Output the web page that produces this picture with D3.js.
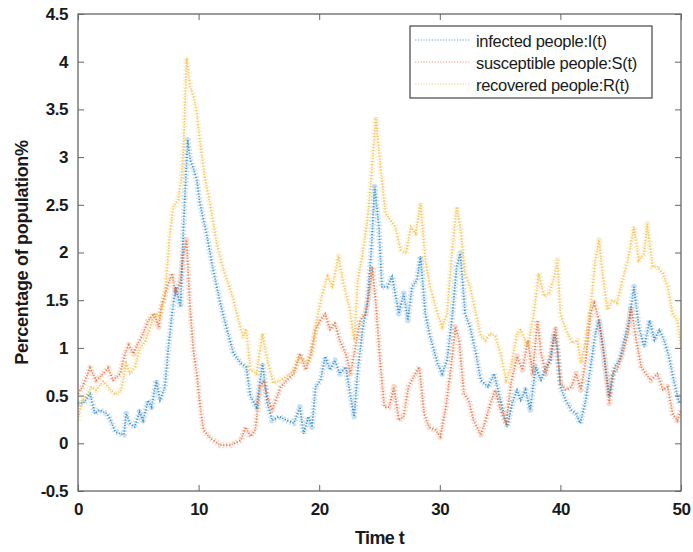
<!DOCTYPE html>
<html>
<head>
<meta charset="utf-8">
<script src="https://cdn.jsdelivr.net/npm/d3@7"></script>
<style>
  body { margin: 0; background: #fff; }
  svg { display: block; font-family: "Liberation Sans", Arial, sans-serif; }
</style>
</head>
<body>
<svg id="chart" width="693" height="552"></svg>
<script>
// ---- data ----
const xTicks = [0, 10, 20, 30, 40, 50];
const yTicks = [-0.5, 0, 0.5, 1, 1.5, 2, 2.5, 3, 3.5, 4, 4.5];
const yTickLabels = ["-0.5", "0", "0.5", "1", "1.5", "2", "2.5", "3", "3.5", "4", "4.5"];
const seriesNames = ["infected people:I(t)", "susceptible people:S(t)", "recovered people:R(t)"];

const infected = [
  [0,0.42],[0.45,0.42],[1,0.52],[1.4,0.31],[1.8,0.35],[2.4,0.31],[2.7,0.24],[3.1,0.12],[3.5,0.10],[3.8,0.09],
  [4.0,0.31],[4.3,0.21],[4.7,0.17],[5.1,0.33],[5.4,0.24],[5.8,0.45],[6.1,0.38],[6.5,0.66],[6.8,0.45],[7.2,0.59],
  [7.5,1.01],[7.8,1.36],[8.1,1.64],[8.5,1.43],[8.75,2.27],[8.9,2.69],[9.1,3.18],[9.3,2.97],[9.6,2.87],[9.85,2.76],
  [10.1,2.52],[10.7,2.17],[11.2,1.82],[11.8,1.47],[12.35,1.19],[12.9,0.94],[13.5,0.84],[13.95,0.80],[14.3,0.49],[14.8,0.38],
  [15.3,0.84],[15.7,0.42],[16.1,0.24],[16.7,0.28],[17.3,0.24],[17.9,0.21],[18.4,0.38],[18.7,0.10],[19.1,0.28],[19.4,0.17],
  [19.7,0.59],[20.1,0.66],[20.5,0.91],[20.9,0.77],[21.3,0.87],[21.7,0.73],[22.2,0.80],[22.6,0.49],[22.9,0.28],[23.2,0.77],
  [23.6,1.19],[24.0,1.47],[24.3,1.99],[24.6,2.69],[24.95,2.27],[25.2,1.64],[25.65,1.64],[26.05,1.75],[26.6,1.36],[27.0,1.57],
  [27.35,1.29],[27.7,1.64],[28.1,1.71],[28.4,1.96],[28.8,1.36],[29.2,1.12],[29.8,0.84],[30.2,0.73],[30.6,0.87],[31.0,1.29],
  [31.4,1.85],[31.7,1.99],[32.1,1.36],[32.5,1.22],[33.0,0.94],[33.4,0.66],[34.0,0.59],[34.5,0.73],[34.9,0.52],[35.3,0.31],
  [35.6,0.17],[36.0,0.42],[36.4,0.56],[36.7,0.45],[37.1,0.56],[37.5,0.35],[37.95,0.80],[38.4,0.66],[38.8,0.80],[39.2,0.87],
  [39.5,1.15],[39.75,0.98],[40.0,0.59],[40.45,0.45],[40.9,0.35],[41.3,0.31],[41.65,0.21],[42.1,0.45],[42.5,0.80],[42.9,1.15],
  [43.2,1.29],[43.6,0.94],[44.05,0.49],[44.5,0.80],[44.9,0.87],[45.3,1.08],[45.7,1.29],[46.1,1.64],[46.5,1.22],[46.95,1.01],
  [47.4,1.29],[47.8,1.08],[48.2,1.19],[48.6,1.08],[49.0,0.91],[49.4,0.66],[49.85,0.42],[50,0.45]
];

const susceptible = [
  [0,0.52],[0.4,0.60],[1,0.79],[1.5,0.66],[2.1,0.73],[2.5,0.79],[2.9,0.66],[3.5,0.73],[3.9,0.94],[4.2,1.03],
  [4.6,0.94],[4.9,1.03],[5.3,1.12],[5.8,1.28],[6.3,1.36],[6.7,1.22],[6.9,1.43],[7.4,1.64],[7.8,1.78],[8.1,1.57],
  [8.5,1.71],[8.75,1.99],[9.0,2.13],[9.3,1.40],[9.6,0.94],[9.85,0.73],[10.1,0.42],[10.4,0.14],[11,0.05],[11.8,-0.02],
  [12.6,-0.02],[13.5,0.03],[13.9,0.17],[14.3,0.07],[14.7,0.14],[15.1,0.59],[15.4,0.66],[15.7,0.49],[16.1,0.35],[16.4,0.45],
  [16.8,0.59],[17.3,0.66],[17.9,0.73],[18.4,0.94],[18.9,0.77],[19.3,0.94],[19.7,1.19],[20.1,1.29],[20.5,1.36],[20.9,1.19],
  [21.3,1.26],[21.7,1.08],[22.2,0.94],[22.6,0.73],[23.0,1.01],[23.4,1.29],[23.85,1.36],[24.1,1.54],[24.4,1.85],[24.7,1.47],
  [25.0,0.94],[25.4,0.38],[25.8,0.38],[26.2,0.59],[26.6,0.24],[27.0,0.28],[27.4,0.59],[27.85,0.70],[28.3,0.80],[28.7,0.31],
  [29.1,0.17],[29.65,0.14],[30.05,0.07],[30.5,0.38],[30.9,0.77],[31.3,1.22],[31.6,1.08],[32.0,0.52],[32.4,0.45],[32.8,0.24],
  [33.4,0.09],[33.8,0.24],[34.2,0.42],[34.6,0.56],[35.05,0.35],[35.5,0.21],[35.9,0.63],[36.4,0.91],[36.85,0.77],[37.3,1.08],
  [37.7,0.73],[38.1,1.29],[38.4,0.94],[38.8,0.73],[39.2,0.94],[39.6,1.22],[40.0,0.63],[40.45,0.56],[40.9,0.59],[41.3,0.73],
  [41.7,0.56],[42.1,0.87],[42.5,1.36],[42.8,1.47],[43.2,1.29],[43.6,0.94],[44.05,0.42],[44.3,0.73],[44.7,0.77],[45.15,0.94],
  [45.6,1.15],[45.85,1.43],[46.3,1.08],[46.7,0.80],[47.1,0.73],[47.5,0.66],[48.05,0.73],[48.5,0.56],[48.9,0.59],[49.3,0.31],
  [49.7,0.24],[50,0.35]
];

const recovered = [
  [0,0.24],[0.3,0.45],[0.7,0.49],[1.1,0.59],[1.5,0.56],[2.1,0.65],[2.7,0.56],[3.1,0.51],[3.6,0.56],[4.0,0.84],
  [4.3,0.73],[4.7,0.80],[5.1,0.98],[5.6,1.08],[6.0,1.22],[6.4,1.36],[6.8,1.33],[7.2,1.54],[7.6,2.17],[7.9,2.48],
  [8.3,2.55],[8.6,2.80],[8.75,3.11],[9.0,4.04],[9.3,3.74],[9.6,3.63],[9.85,3.46],[10.1,3.18],[10.5,2.80],[11,2.48],
  [11.5,2.10],[12.1,1.80],[12.5,1.66],[12.9,1.50],[13.3,1.29],[13.7,1.12],[13.95,1.20],[14.3,0.77],[14.8,0.73],[15.3,1.15],
  [15.7,0.87],[16.2,0.63],[16.8,0.66],[17.3,0.70],[17.9,0.77],[18.4,0.91],[19.0,0.84],[19.4,0.94],[19.8,1.29],[20.2,1.54],
  [20.7,1.75],[21.1,1.64],[21.6,1.96],[22.0,1.68],[22.5,1.43],[22.9,1.08],[23.2,1.71],[23.6,1.99],[24.0,2.34],[24.3,2.76],
  [24.7,3.42],[25.1,2.87],[25.5,2.41],[25.9,2.34],[26.3,2.27],[26.75,2.03],[27.2,1.99],[27.6,2.27],[28.0,2.20],[28.4,2.52],
  [28.8,1.92],[29.2,1.64],[29.8,1.36],[30.2,1.22],[30.6,1.36],[31.0,1.99],[31.4,2.48],[31.7,2.27],[32.1,1.78],[32.5,1.64],
  [33.0,1.36],[33.4,1.12],[33.8,1.08],[34.2,1.15],[34.6,1.12],[35.05,0.94],[35.5,0.66],[35.9,0.80],[36.4,1.15],[36.7,1.19],
  [37.3,1.01],[37.8,1.36],[38.2,1.78],[38.65,1.54],[39.05,1.57],[39.5,1.75],[39.75,1.92],[40.0,1.36],[40.45,1.19],[41.0,1.05],
  [41.4,1.08],[41.7,0.84],[42.1,1.08],[42.5,1.43],[42.9,1.92],[43.2,2.13],[43.5,1.78],[43.9,1.40],[44.3,1.50],[44.7,1.47],
  [45.15,1.71],[45.6,1.92],[46.1,2.27],[46.5,1.92],[46.95,1.99],[47.2,2.30],[47.65,1.85],[48.05,1.85],[48.5,1.78],[48.9,1.64],
  [49.3,1.36],[49.7,1.29],[50,1.01]
];

const seriesData = [infected, susceptible, recovered];
const seriesColors = ["#0072BD", "#D95319", "#EDB120"];

// ---- layout ----
const W = 693, H = 552;
const margin = { left: 78, right: 12, top: 14, bottom: 61 };
const svg = d3.select("#chart");

const x = d3.scaleLinear().domain([0, 50]).range([margin.left, W - margin.right]);
const y = d3.scaleLinear().domain([-0.5, 4.5]).range([H - margin.bottom, margin.top]);

const axisColor = "#666";
const textColor = "#1a1a1a";

// clip
svg.append("defs").append("clipPath").attr("id", "clip")
  .append("rect").attr("x", x(0)).attr("y", y(4.5)).attr("width", x(50) - x(0)).attr("height", y(-0.5) - y(4.5));

// lines: faint wide band + dotted core (mimics the noisy dotted trace)
const line = d3.line().x(d => x(d[0])).y(d => y(d[1]));
const g = svg.append("g").attr("clip-path", "url(#clip)");
seriesData.forEach((data, i) => {
  g.append("path")
    .datum(data)
    .attr("d", line)
    .attr("fill", "none")
    .attr("stroke", seriesColors[i])
    .attr("stroke-width", 6)
    .attr("stroke-linejoin", "round")
    .attr("stroke-dasharray", "1.5 2")
    .attr("stroke-opacity", 0.22);
  g.append("path")
    .datum(data)
    .attr("d", line)
    .attr("fill", "none")
    .attr("stroke", seriesColors[i])
    .attr("stroke-width", 1.8)
    .attr("stroke-dasharray", "1.2 1.6")
    .attr("stroke-opacity", 0.7);
});

// axes
function styleAxis(sel, hideText) {
  sel.select(".domain").remove();
  sel.selectAll(".tick line").attr("stroke", axisColor).attr("stroke-width", 1);
  sel.selectAll(".tick text")
    .attr("fill", textColor)
    .style("font-size", "17px")
    .style("font-weight", "bold")
    .style("letter-spacing", "-0.5px");
  if (hideText) sel.selectAll(".tick text").remove();
}

svg.append("g").attr("transform", `translate(0,${y(-0.5)})`)
  .call(d3.axisBottom(x).tickValues(xTicks).tickSize(-6).tickPadding(12).tickFormat(d3.format("d")))
  .call(s => styleAxis(s, false));
svg.append("g").attr("transform", `translate(0,${y(4.5)})`)
  .call(d3.axisTop(x).tickValues(xTicks).tickSize(-6))
  .call(s => styleAxis(s, true));
svg.append("g").attr("transform", `translate(${x(0)},0)`)
  .call(d3.axisLeft(y).tickValues(yTicks).tickSize(-6).tickPadding(10).tickFormat((d, i) => yTickLabels[i]))
  .call(s => styleAxis(s, false));
svg.append("g").attr("transform", `translate(${x(50)},0)`)
  .call(d3.axisRight(y).tickValues(yTicks).tickSize(-6))
  .call(s => styleAxis(s, true));

// box
svg.append("rect")
  .attr("x", x(0)).attr("y", y(4.5))
  .attr("width", x(50) - x(0)).attr("height", y(-0.5) - y(4.5))
  .attr("fill", "none").attr("stroke", axisColor).attr("stroke-width", 1.3);

// axis labels
svg.append("text")
  .attr("x", (x(0) + x(50)) / 2).attr("y", 544)
  .attr("text-anchor", "middle")
  .attr("fill", textColor)
  .style("font-size", "18px").style("font-weight", "bold").style("letter-spacing", "-0.6px")
  .text("Time t");
svg.append("text")
  .attr("transform", `translate(28,${(y(-0.5) + y(4.5)) / 2}) rotate(-90)`)
  .attr("text-anchor", "middle")
  .attr("fill", textColor)
  .style("font-size", "18px").style("font-weight", "bold").style("letter-spacing", "-0.3px")
  .text("Percentage of population%");

// legend
const lg = svg.append("g");
lg.append("rect")
  .attr("x", 410).attr("y", 26).attr("width", 242).attr("height", 72)
  .attr("fill", "#fff").attr("stroke", "#444").attr("stroke-width", 1.2);
seriesNames.forEach((name, i) => {
  const yy = 40 + i * 22;
  lg.append("line")
    .attr("x1", 415).attr("x2", 470).attr("y1", yy).attr("y2", yy)
    .attr("stroke", seriesColors[i]).attr("stroke-width", 1.2)
    .attr("stroke-dasharray", "1.2 1.6").attr("stroke-opacity", 0.6);
  lg.append("text")
    .attr("x", 476).attr("y", yy + 1).attr("dy", "0.35em")
    .attr("fill", textColor)
    .style("font-size", "16.5px").style("letter-spacing", "-0.3px")
    .text(name);
});
</script>
</body>
</html>
